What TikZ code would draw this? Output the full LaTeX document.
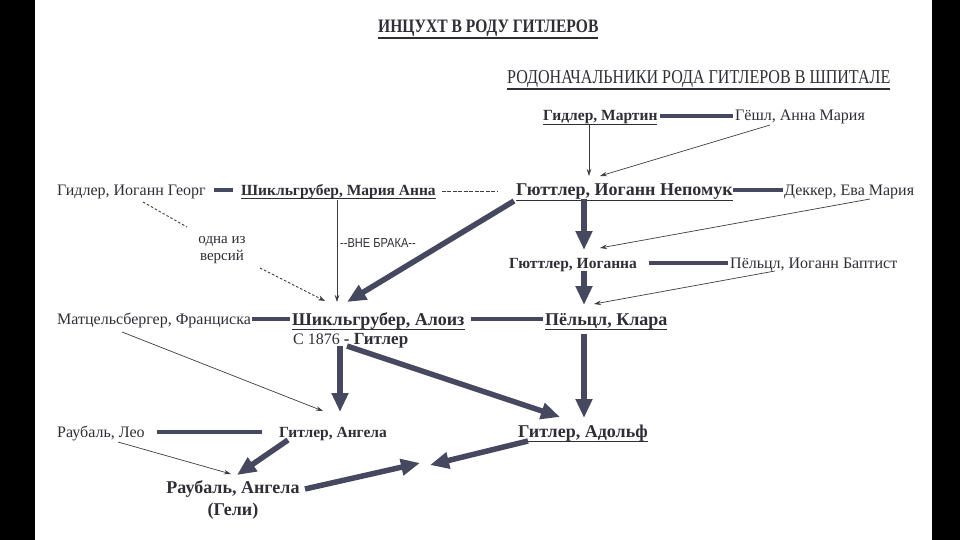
\documentclass[tikz,border=0pt]{standalone}
\usepackage{fontspec}
\setmainfont{Liberation Serif}
\newfontfamily\condserif[FakeStretch=0.82]{Liberation Serif}
\newfontfamily\labelsans[FakeStretch=0.85]{Liberation Sans}
\usetikzlibrary{arrows.meta}
\definecolor{ink}{HTML}{464860}
\definecolor{txt}{HTML}{2E2E36}
\definecolor{thinline}{HTML}{3C3C44}
\newcommand\ul[1]{\setbox0\hbox{#1}\rlap{\rule[-0.29em]{\wd0}{0.085em}}\box0}
\tikzset{
  every node/.style={inner sep=0pt, text=txt},
  plain/.style={anchor=base west, font=\fontsize{16}{19}\selectfont},
  boldname/.style={anchor=base west, font=\fontsize{15.5}{19}\selectfont\bfseries},
  bigname/.style={anchor=base west, font=\fontsize{18}{21}\selectfont\bfseries},
  marriage/.style={draw=ink, line width=3.5pt},
  descent/.style={draw=ink, line width=5.5pt, -{Triangle[length=19pt,width=16pt]}},
  link/.style={draw=thinline, line width=0.7pt, -{Stealth[length=7pt,width=4.5pt]}},
  maybe/.style={draw=thinline, line width=0.9pt, dash pattern=on 2.5pt off 2pt},
  maybearrow/.style={maybe, -{Stealth[length=7pt,width=5pt]}},
  hyphenline/.style={draw=thinline, line width=1pt, dash pattern=on 4pt off 1.5pt},
}
\begin{document}
\begin{tikzpicture}[x=1pt,y=-1pt]
\useasboundingbox (0,0) rectangle (960,540);
\fill[white] (0,0) rectangle (960,540);
\fill[black] (0,0) rectangle (35,540);
\fill[black] (932,0) rectangle (960,540);

% titles
\node[anchor=base west, font=\condserif\fontsize{19}{22}\selectfont\bfseries] (title) at (378,33) {\ul{ИНЦУХТ В РОДУ ГИТЛЕРОВ}};
\node[anchor=base west, font=\condserif\fontsize{19.6}{22}\selectfont] (subtitle) at (507,84) {\ul{РОДОНАЧАЛЬНИКИ РОДА ГИТЛЕРОВ В ШПИТАЛЕ}};

% persons
\node[boldname] (martin) at (543,121) {\ul{Гидлер, Мартин}};
\node[plain] (goeschl) at (735,121) {Гёшл, Анна Мария};
\node[plain] (georg) at (57,195) {Гидлер, Иоганн Георг};
\node[boldname] (mariaanna) at (241,195) {\ul{Шикльгрубер, Мария Анна}};
\node[bigname] (nepomuk) at (516,196) {\ul{Гюттлер, Иоганн Непомук}};
\node[plain] (decker) at (784,195) {Деккер, Ева Мария};
\node[align=center, font=\fontsize{15}{17}\selectfont] (version) at (222,250) {одна из\\версий};
\node[anchor=base west, font=\labelsans\fontsize{13}{15}\selectfont] (outside) at (340,247) {\hbox{-}\hbox{-}ВНЕ БРАКА\hbox{-}\hbox{-}};
\node[boldname] (johanna) at (509,268) {Гюттлер, Иоганна};
\node[plain] (baptist) at (730,268) {Пёльцл, Иоганн Баптист};
\node[plain] (franziska) at (57,324) {Матцельсбергер, Франциска};
\node[bigname] (alois) at (292,325) {\ul{Шикльгрубер, Алоиз}};
\node[bigname] (klara) at (545,325) {\ul{Пёльцл, Клара}};
\node[plain] (since) at (293,344) {С 1876 {\bfseries\fontsize{17}{19}\selectfont - Гитлер}};
\node[plain] (leo) at (57,437) {Раубаль, Лео};
\node[boldname] (angela) at (279,437) {Гитлер, Ангела};
\node[bigname] (adolf) at (518,437) {\ul{Гитлер, Адольф}};
\node[align=center, font=\fontsize{18}{22}\selectfont\bfseries] (geli) at (233,500) {Раубаль, Ангела\\(Гели)};
\coordinate (meetL) at (420,463);
\coordinate (meetR) at (430,465);

% marriages
\draw[marriage] ([shift={(2,-5)}]martin.base east) -- ([shift={(-2,-5)}]goeschl.base west);
\draw[marriage] ([shift={(8,-5)}]georg.base east) -- ([shift={(-8,-5)}]mariaanna.base west);
\draw[hyphenline] ([shift={(6,-4)}]mariaanna.base east) -- ([shift={(-18,-5)}]nepomuk.base west);
\draw[marriage] ([shift={(0,-6)}]nepomuk.base east) -- ([shift={(-1,-5)}]decker.base west);
\draw[marriage] ([shift={(12,-5)}]johanna.base east) -- ([shift={(-2,-5)}]baptist.base west);
\draw[marriage] ([shift={(1,-5)}]franziska.base east) -- ([shift={(-2,-6)}]alois.base west);
\draw[marriage] ([shift={(6,-6)}]alois.base east) -- ([shift={(-2,-6)}]klara.base west);
\draw[marriage] ([shift={(12,-5)}]leo.base east) -- ([shift={(-17,-5)}]angela.base west);

% descent
\draw[link] ([shift={(46,4)}]martin.base west) -- ([shift={(73,-20)}]nepomuk.base west);
\draw[link] ([shift={(35,4)}]goeschl.base west) -- ([shift={(84,-20)}]nepomuk.base west);
\draw[descent] ([shift={(68,3)}]nepomuk.base west) -- ([shift={(75,-18)}]johanna.base west);
\draw[link] ([shift={(86,4)}]decker.base west) -- ([shift={(91,-20)}]johanna.base west);
\draw[descent] ([shift={(75,3)}]johanna.base west) -- ([shift={(39,-20)}]klara.base west);
\draw[link] ([shift={(45,3)}]baptist.base west) -- ([shift={(49,-21)}]klara.base west);
\draw[descent] ([shift={(-2,5)}]nepomuk.base west) -- ([shift={(55,-23)}]alois.base west);
\draw[link] ([shift={(96,5)}]mariaanna.base west) -- ([shift={(45,-23)}]alois.base west);
\draw[maybe] ([shift={(86,7)}]georg.base west) -- ([shift={(-35,-23)}]version.center);
\draw[maybearrow] ([shift={(38,18)}]version.center) -- ([shift={(33,-24)}]alois.base west);
\draw[descent] ([shift={(39,9)}]klara.base west) -- ([shift={(66,-19)}]adolf.base west);
\draw[descent] ([shift={(55,21)}]alois.base west) -- ([shift={(42,-20)}]adolf.base west);
\draw[descent] ([shift={(48,21)}]alois.base west) -- ([shift={(61,-25)}]angela.base west);
\draw[link] ([shift={(65,8)}]franziska.base west) -- ([shift={(44,-26)}]angela.base west);
\draw[link] ([shift={(61,5)}]leo.base west) -- ([shift={(-2,-26)}]geli.center);
\draw[descent] ([shift={(9,3)}]angela.base west) -- ([shift={(4,-25)}]geli.center);
\draw[descent] ([shift={(72,-11)}]geli.center) -- (meetL);
\draw[descent] ([shift={(10,4)}]adolf.base west) -- (meetR);
\end{tikzpicture}
\end{document}
